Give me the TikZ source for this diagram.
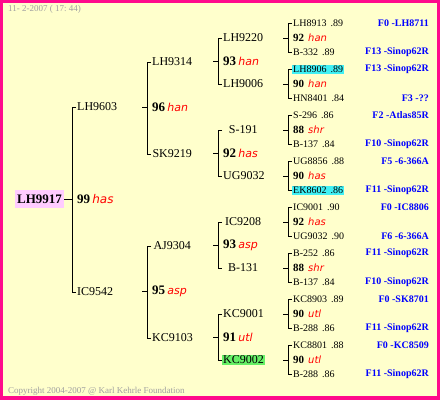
\documentclass[tikz,border=0pt]{standalone}
\usepackage{fontspec}
\setmainfont{Liberation Serif}
\newfontfamily\tagfont{DejaVu Sans}
\usetikzlibrary{positioning}
\definecolor{edgepink}{HTML}{FF0A8C}
\definecolor{paper}{HTML}{FFFFCC}
\definecolor{famblue}{HTML}{0000FF}
\definecolor{tagred}{HTML}{FF0000}
\definecolor{stampgray}{HTML}{A0A0A0}
\definecolor{pinkhl}{HTML}{FFCCFF}
\definecolor{cyanhl}{HTML}{40F0F4}
\definecolor{greenhl}{HTML}{66F066}
\newcommand{\linetag}[2][11]{{\color{tagred}\tagfont\mdseries\itshape\fontsize{#1}{#1}\selectfont #2}}
\tikzset{treeline/.style={draw=black,line width=1pt},
 namebox/.style={anchor=west,inner sep=1pt,font=\fontsize{12}{14}\selectfont},
 midname/.style={namebox,minimum width=42pt},
 rootbox/.style={anchor=west,fill=pinkhl,inner sep=2pt,minimum height=18pt,font=\fontsize{13}{15}\selectfont\bfseries},
 scorebox/.style={anchor=west,inner sep=1pt,font=\fontsize{13}{15}\selectfont\bfseries},
 leafname/.style={anchor=west,inner sep=1pt,font=\fontsize{10}{12}\selectfont},
 leafscore/.style={anchor=west,inner sep=1pt,font=\fontsize{11}{13}\selectfont\bfseries},
 familytag/.style={anchor=east,inner sep=1pt,text=famblue,font=\fontsize{10}{12}\selectfont\bfseries},
 stamp/.style={anchor=west,inner sep=0pt,text=stampgray,font=\fontsize{9}{11}\selectfont}}
\begin{document}
\begin{tikzpicture}[x=1pt,y=-1pt]
\useasboundingbox (0,0) rectangle (440,400);
\fill[edgepink] (0,0) rectangle (440,400);
\fill[paper] (3,3) rectangle (437,396);
\node[stamp] (date) at (8,9) {11-\ 2-2007 ( 17:\ 44)};
\node[stamp] (copy) at (8,391) {Copyright 2004-2007 @ Karl Kehrle Foundation};
% root and parents
\node[rootbox] (g0) at (15,199) {LH9917};
\node[scorebox] (s0) at (76,199) {99\,\linetag[12]{has}};
\node[namebox] (g1a) at (76,107) {LH9603};
\node[namebox] (g1b) at (76,292) {IC9542};
\draw[treeline] (s0.west) ++(-4,0) -- (g0.east);
\draw[treeline] (g1a.west) -- ++(-4,0) |- (g1b.west);
% grandparents
\node[scorebox] (s1a) at (151,107) {96\,\linetag{han}};
\node[midname] (g2a) at (151,62) {LH9314};
\node[midname] (g2b) at (151,154) {SK9219};
\node[scorebox] (s1b) at (151,291) {95\,\linetag{asp}};
\node[midname] (g2c) at (151,246) {AJ9304};
\node[midname] (g2d) at (151,338) {KC9103};
\draw[treeline] (g2a.west) -- ++(-4,0) |- (g2b.west);\draw[treeline] (s1a.west) ++(-4,0) -- ++(-5,0);
\draw[treeline] (g2c.west) -- ++(-4,0) |- (g2d.west);\draw[treeline] (s1b.west) ++(-4,0) -- ++(-5,0);
% great-grandparents
\node[scorebox] (s2a) at (222,61) {93\,\linetag{han}};
\node[midname] (g3a) at (222,38) {LH9220};
\node[midname] (g3b) at (222,84) {LH9006};
\node[scorebox] (s2b) at (222,153) {92\,\linetag{has}};
\node[midname] (g3c) at (222,130) {S-191};
\node[midname] (g3d) at (222,176) {UG9032};
\node[scorebox] (s2c) at (222,245) {93\,\linetag{asp}};
\node[midname] (g3e) at (222,222) {IC9208};
\node[midname] (g3f) at (222,268) {B-131};
\node[scorebox] (s2d) at (222,337) {91\,\linetag{utl}};
\node[midname] (g3g) at (222,314) {KC9001};
\node[midname,fill=greenhl] (g3h) at (222,360) {KC9002};
\draw[treeline] (g3a.west) -- ++(-4,0) |- (g3b.west);\draw[treeline] (s2a.west) ++(-4,0) -- ++(-5,0);
\draw[treeline] (g3c.west) -- ++(-4,0) |- (g3d.west);\draw[treeline] (s2b.west) ++(-4,0) -- ++(-5,0);
\draw[treeline] (g3e.west) -- ++(-4,0) |- (g3f.west);\draw[treeline] (s2c.west) ++(-4,0) -- ++(-5,0);
\draw[treeline] (g3g.west) -- ++(-4,0) |- (g3h.west);\draw[treeline] (s2d.west) ++(-4,0) -- ++(-5,0);
% last generation with families
\node[leafname] (l0t) at (292,23.5) {LH8913\hspace{4pt}.89};\node[leafscore] (l0m) at (292,38) {92\hspace{4pt}\linetag[10]{han}};\node[leafname] (l0b) at (292,52.5) {B-332\hspace{4pt}.89};
\node[familytag] (f0t) at (430,23.5) {F0 -LH8711};\node[familytag] (f0b) at (430,52.5) {F13 -Sinop62R};
\node[leafname,fill=cyanhl] (l1t) at (292,69.5) {LH8906\hspace{4pt}.89};\node[leafscore] (l1m) at (292,84) {90\hspace{4pt}\linetag[10]{han}};\node[leafname] (l1b) at (292,98.5) {HN8401\hspace{4pt}.84};
\node[familytag] (f1t) at (430,69.5) {F13 -Sinop62R};\node[familytag] (f1b) at (430,98.5) {F3 -??};
\node[leafname] (l2t) at (292,115.5) {S-296\hspace{4pt}.86};\node[leafscore] (l2m) at (292,130) {88\hspace{4pt}\linetag[10]{shr}};\node[leafname] (l2b) at (292,144.5) {B-137\hspace{4pt}.84};
\node[familytag] (f2t) at (430,115.5) {F2 -Atlas85R};\node[familytag] (f2b) at (430,144.5) {F10 -Sinop62R};
\node[leafname] (l3t) at (292,161.5) {UG8856\hspace{4pt}.88};\node[leafscore] (l3m) at (292,176) {90\hspace{4pt}\linetag[10]{has}};\node[leafname,fill=cyanhl] (l3b) at (292,190.5) {EK8602\hspace{4pt}.86};
\node[familytag] (f3t) at (430,161.5) {F5 -6-366A};\node[familytag] (f3b) at (430,190.5) {F11 -Sinop62R};
\node[leafname] (l4t) at (292,207.5) {IC9001\hspace{4pt}.90};\node[leafscore] (l4m) at (292,222) {92\hspace{4pt}\linetag[10]{has}};\node[leafname] (l4b) at (292,236.5) {UG9032\hspace{4pt}.90};
\node[familytag] (f4t) at (430,207.5) {F0 -IC8806};\node[familytag] (f4b) at (430,236.5) {F6 -6-366A};
\node[leafname] (l5t) at (292,253.5) {B-252\hspace{4pt}.86};\node[leafscore] (l5m) at (292,268) {88\hspace{4pt}\linetag[10]{shr}};\node[leafname] (l5b) at (292,282.5) {B-137\hspace{4pt}.84};
\node[familytag] (f5t) at (430,253.5) {F11 -Sinop62R};\node[familytag] (f5b) at (430,282.5) {F10 -Sinop62R};
\node[leafname] (l6t) at (292,299.5) {KC8903\hspace{4pt}.89};\node[leafscore] (l6m) at (292,314) {90\hspace{4pt}\linetag[10]{utl}};\node[leafname] (l6b) at (292,328.5) {B-288\hspace{4pt}.86};
\node[familytag] (f6t) at (430,299.5) {F0 -SK8701};\node[familytag] (f6b) at (430,328.5) {F11 -Sinop62R};
\node[leafname] (l7t) at (292,345.5) {KC8801\hspace{4pt}.88};\node[leafscore] (l7m) at (292,360) {90\hspace{4pt}\linetag[10]{utl}};\node[leafname] (l7b) at (292,374.5) {B-288\hspace{4pt}.86};
\node[familytag] (f7t) at (430,345.5) {F0 -KC8509};\node[familytag] (f7b) at (430,374.5) {F11 -Sinop62R};
\draw[treeline] (l0t.west) -- ++(-4,0) |- (l0b.west);\draw[treeline] (l0m.west) ++(-4,0) -- ++(-5,0);
\draw[treeline] (l1t.west) -- ++(-4,0) |- (l1b.west);\draw[treeline] (l1m.west) ++(-4,0) -- ++(-5,0);
\draw[treeline] (l2t.west) -- ++(-4,0) |- (l2b.west);\draw[treeline] (l2m.west) ++(-4,0) -- ++(-5,0);
\draw[treeline] (l3t.west) -- ++(-4,0) |- (l3b.west);\draw[treeline] (l3m.west) ++(-4,0) -- ++(-5,0);
\draw[treeline] (l4t.west) -- ++(-4,0) |- (l4b.west);\draw[treeline] (l4m.west) ++(-4,0) -- ++(-5,0);
\draw[treeline] (l5t.west) -- ++(-4,0) |- (l5b.west);\draw[treeline] (l5m.west) ++(-4,0) -- ++(-5,0);
\draw[treeline] (l6t.west) -- ++(-4,0) |- (l6b.west);\draw[treeline] (l6m.west) ++(-4,0) -- ++(-5,0);
\draw[treeline] (l7t.west) -- ++(-4,0) |- (l7b.west);\draw[treeline] (l7m.west) ++(-4,0) -- ++(-5,0);
\end{tikzpicture}
\end{document}
